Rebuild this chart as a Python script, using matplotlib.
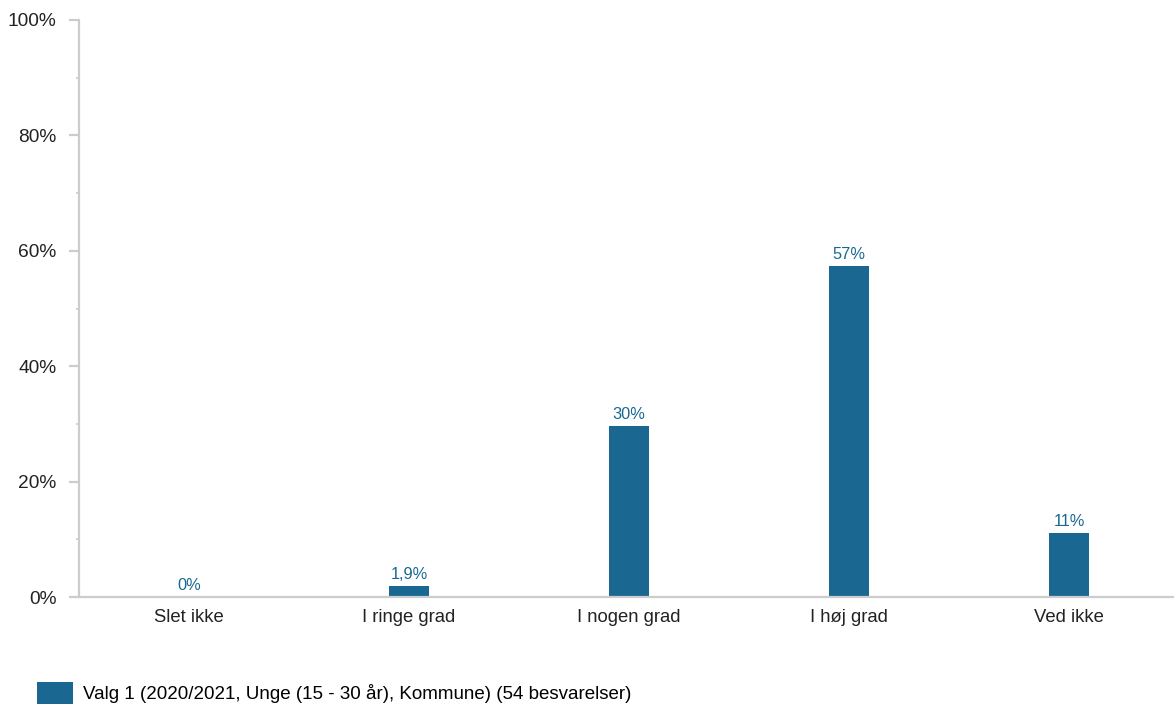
# bar chart of answers, one series, percent of 54 answers
import matplotlib.pyplot as plt
from matplotlib.ticker import MultipleLocator, PercentFormatter

categories = ["Slet ikke", "I ringe grad", "I nogen grad", "I høj grad", "Ved ikke"]
values = [0, 1.85, 29.6, 57.4, 11.1]
value_labels = ["0%", "1,9%", "30%", "57%", "11%"]
series_name = "Valg 1 (2020/2021, Unge (15 - 30 år), Kommune) (54 besvarelser)"

bar_color = "#1a6891"
grey = "#cccccc"

plt.rcParams['font.family'] = ['Liberation Sans', 'DejaVu Sans']

fig = plt.figure(figsize=(11.74, 7.06), dpi=100)
ax = fig.add_axes([79 / 1174, 1 - 597 / 706, 1100 / 1174, (597 - 20) / 706])

bars = ax.bar(range(len(categories)), values, width=0.18, color=bar_color, label=series_name)
ax.bar_label(bars, labels=value_labels, padding=3, color=bar_color, fontsize=11.8)

ax.set_xlim(-0.5, len(categories) - 0.5)
ax.set_ylim(0, 100)
ax.set_xticks(range(len(categories)))
ax.set_xticklabels(categories)
ax.yaxis.set_major_locator(MultipleLocator(20))
ax.yaxis.set_minor_locator(MultipleLocator(10))
ax.yaxis.set_major_formatter(PercentFormatter(decimals=0))

for side in ["top", "right"]:
    ax.spines[side].set_visible(False)
for side in ["left", "bottom"]:
    ax.spines[side].set_color(grey)
    ax.spines[side].set_linewidth(1.6)

ax.tick_params(axis="x", length=0, pad=9, labelsize=13.3, labelcolor="#222222")
ax.tick_params(axis="y", which="major", length=7.2, width=1.6, color=grey, pad=9,
               labelsize=13.8, labelcolor="#222222")
ax.tick_params(axis="y", which="minor", length=2.2, width=1.2, color=grey)

fig.legend(loc="center left", bbox_to_anchor=(37 / 1174, 1 - 693 / 706), frameon=False,
           borderpad=0, borderaxespad=0, handlelength=1.92, handleheight=1.39,
           handletextpad=0.53, fontsize=13.5)

fig.savefig("out.png", dpi=100)
